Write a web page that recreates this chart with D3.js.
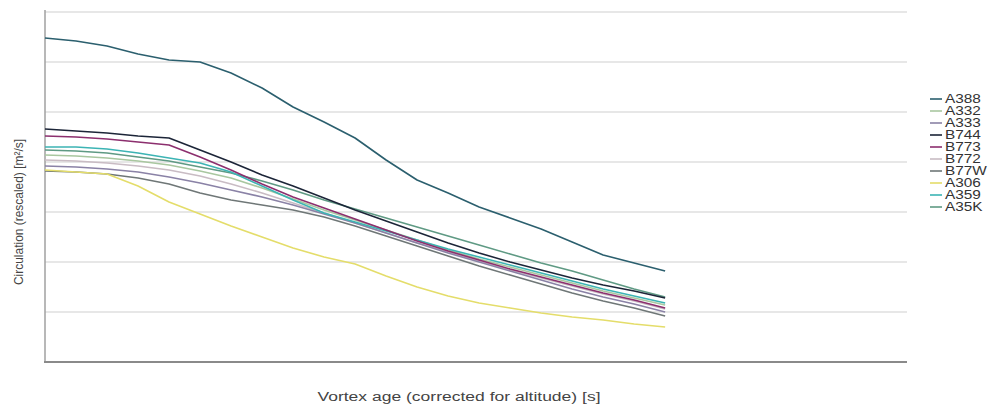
<!DOCTYPE html>
<html><head><meta charset="utf-8">
<script src="https://cdn.jsdelivr.net/npm/d3@7"></script>
<style>body{margin:0;background:#fff;}svg{display:block;}</style>
</head><body>
<svg id="c" width="1002" height="408"></svg>
<script>
const ages = [0,5,10,15,20,25,30,35,40,45,50,55,60,65,70,75,80,85,90,95,100];
const seriesNames = ["A388","A332","A333","B744","B773","B772","B77W","A306","A359","A35K"];
const A388 = [6.48,6.42,6.32,6.16,6.04,6.00,5.78,5.48,5.10,4.80,4.48,4.04,3.64,3.38,3.10,2.88,2.66,2.40,2.14,1.98,1.82];
const A332 = [4.14,4.12,4.08,4.02,3.94,3.82,3.68,3.48,3.26,3.04,2.84,2.64,2.44,2.24,2.06,1.90,1.74,1.58,1.42,1.28,1.14];
const A333 = [3.92,3.90,3.86,3.80,3.70,3.58,3.44,3.30,3.14,2.96,2.78,2.58,2.38,2.18,2.00,1.82,1.64,1.46,1.30,1.16,1.00];
const B744 = [4.66,4.62,4.58,4.52,4.48,4.24,4.00,3.74,3.52,3.28,3.04,2.82,2.60,2.38,2.18,2.00,1.84,1.68,1.54,1.42,1.28];
const B773 = [4.52,4.50,4.46,4.40,4.34,4.10,3.84,3.56,3.30,3.08,2.86,2.64,2.42,2.22,2.04,1.86,1.70,1.54,1.38,1.24,1.08];
const B772 = [4.04,4.02,3.98,3.92,3.84,3.72,3.56,3.38,3.18,2.98,2.78,2.58,2.38,2.20,2.02,1.84,1.68,1.52,1.36,1.22,1.06];
const B77W = [3.82,3.80,3.76,3.68,3.56,3.38,3.24,3.14,3.04,2.90,2.72,2.52,2.32,2.12,1.92,1.74,1.56,1.38,1.22,1.08,0.92];
const A306 = [3.84,3.80,3.76,3.52,3.20,2.96,2.72,2.50,2.28,2.10,1.96,1.72,1.50,1.32,1.18,1.08,0.98,0.90,0.84,0.76,0.70];
const A359 = [4.30,4.30,4.26,4.18,4.08,3.98,3.80,3.52,3.24,2.98,2.80,2.62,2.44,2.26,2.10,1.94,1.78,1.62,1.46,1.32,1.18];
const A35K = [4.24,4.22,4.18,4.10,4.02,3.90,3.78,3.62,3.44,3.24,3.06,2.88,2.70,2.52,2.34,2.16,1.98,1.82,1.64,1.46,1.30];
const yTicks = [0,1,2,3,4,5,6,7];
const colors = ["#2b5f6e","#a9c7a0","#8a82a6","#1c2538","#8c2f6e","#c9bcc4","#6f7777","#e4dd6a","#3cb4b4","#5f9a84"];

const valuesByName = {A388,A332,A333,B744,B773,B772,B77W,A306,A359,A35K};
const svg = d3.select("#c");
const x = d3.scaleLinear().domain([0,139]).range([45,907]);
const y = d3.scaleLinear().domain([0,7]).range([362,12]);
const FONT = "Liberation Sans, Arial, sans-serif";

// gridlines
svg.append("g").selectAll("line").data(yTicks.slice(1)).join("line")
  .attr("x1",45).attr("x2",907)
  .attr("y1",d=>y(d)).attr("y2",d=>y(d))
  .attr("stroke","#cfcfcf").attr("stroke-width",1.2);

// axes
svg.append("line").attr("x1",45).attr("x2",45).attr("y1",10).attr("y2",362)
  .attr("stroke","#a0a0a0").attr("stroke-width",1.5);
svg.append("line").attr("x1",44).attr("x2",907).attr("y1",362).attr("y2",362)
  .attr("stroke","#8a8a8a").attr("stroke-width",2);

const line = d3.line().x((d,i)=>x(ages[i])).y(d=>y(d)).curve(d3.curveLinear);
const drawOrder = ["B772","A332","A35K","B77W","A333","A306","A359","B773","B744","A388"];
drawOrder.forEach(n=>{
  const i = seriesNames.indexOf(n);
  svg.append("path").datum(valuesByName[n]).attr("d",line)
    .attr("fill","none").attr("stroke",colors[i]).attr("stroke-width",1.6)
    .attr("stroke-linejoin","round");
});

// axis titles (the reference is horizontally stretched)
svg.append("text").attr("transform","translate(23,212) rotate(-90)")
  .attr("text-anchor","middle").attr("font-family",FONT)
  .attr("font-size",12).attr("fill","#444")
  .attr("textLength",146).attr("lengthAdjust","spacingAndGlyphs")
  .text("Circulation (rescaled) [m²/s]");
svg.append("text").attr("x",459).attr("y",401)
  .attr("text-anchor","middle").attr("font-family",FONT)
  .attr("font-size",12.5).attr("fill","#444")
  .attr("textLength",283).attr("lengthAdjust","spacingAndGlyphs")
  .text("Vortex age (corrected for altitude) [s]");

// legend
const lg = svg.append("g").attr("transform","translate(930,99)");
seriesNames.forEach((n,i)=>{
  const g = lg.append("g").attr("transform",`translate(0,${i*12})`);
  g.append("line").attr("x1",0).attr("x2",12).attr("y1",0).attr("y2",0)
    .attr("stroke",colors[i]).attr("stroke-width",1.6);
  const t = g.append("text").attr("x",15).attr("y",4.3).attr("font-family",FONT)
    .attr("font-size",12).attr("fill","#333").text(n);
  const w = t.node().getComputedTextLength();
  t.attr("textLength",w*1.28).attr("lengthAdjust","spacingAndGlyphs");
});
</script>
</body></html>
